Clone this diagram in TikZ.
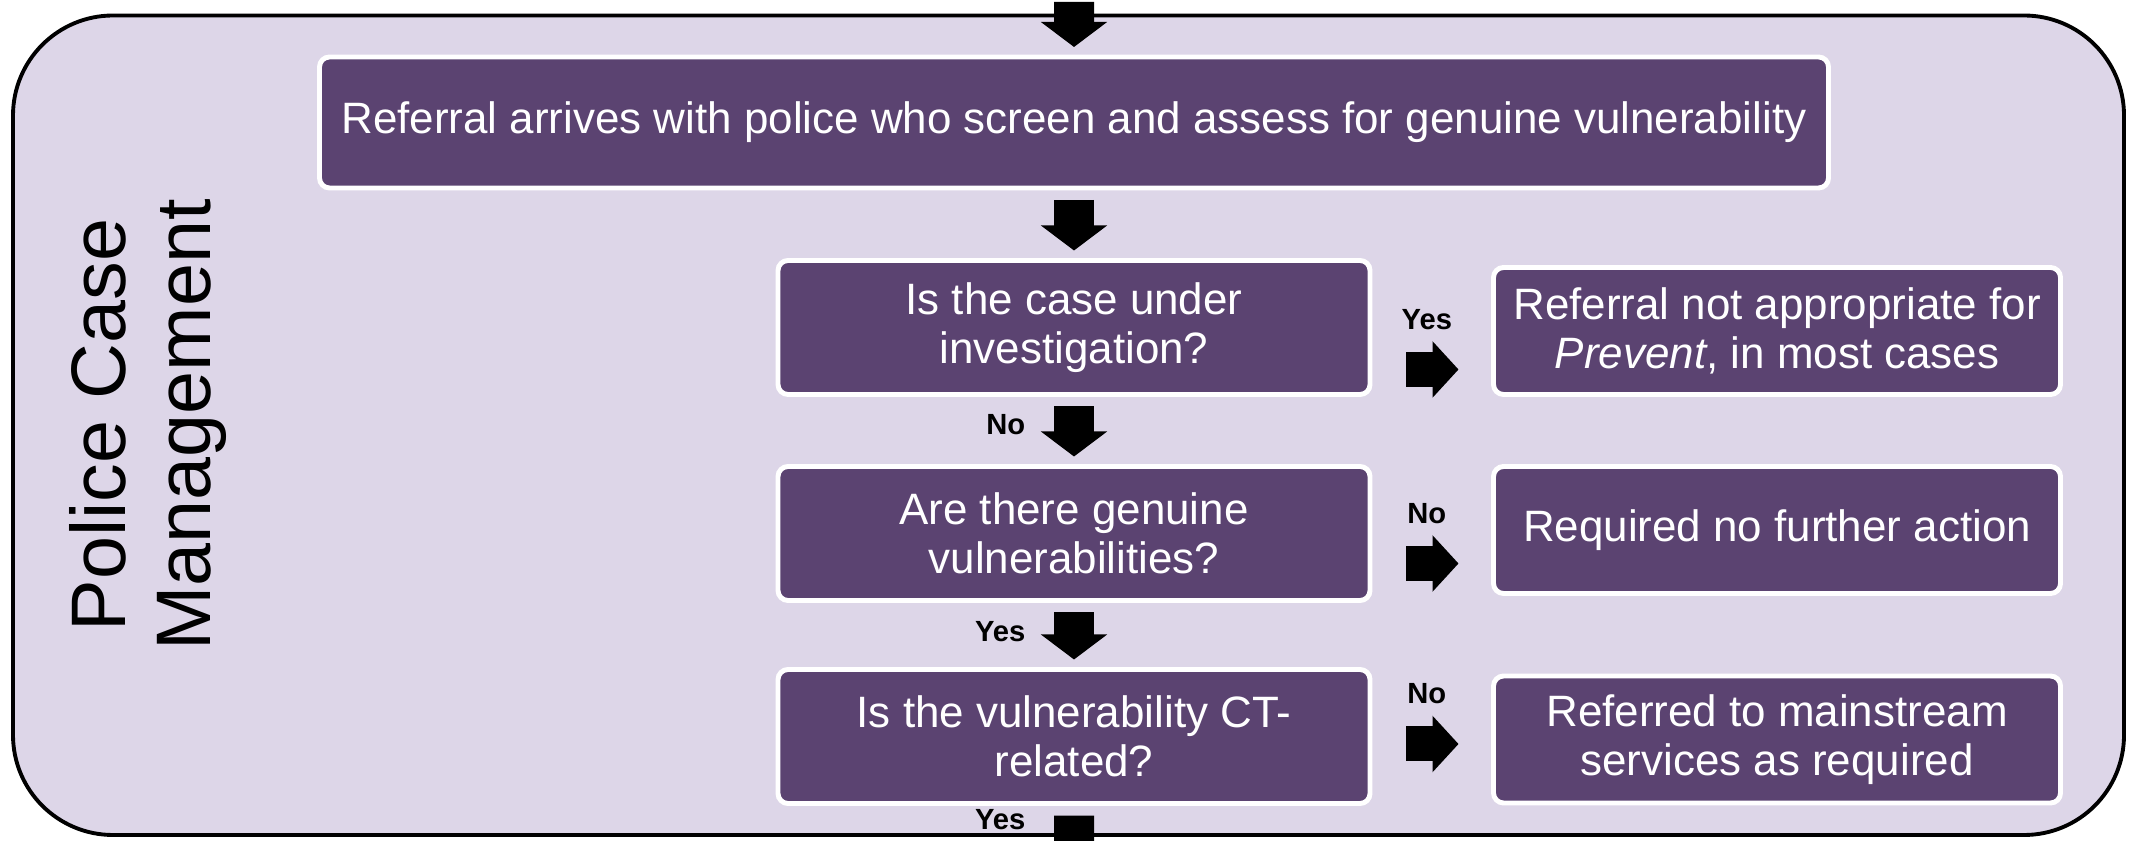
\documentclass[tikz,border=0pt]{standalone}
\usepackage{fontspec}
\setmainfont{Liberation Sans}
\usetikzlibrary{positioning, arrows.meta}
\definecolor{lavender}{RGB}{221,214,232}
\definecolor{plum}{RGB}{91,67,113}
\tikzset{
flowbox/.style={draw=white, line width=1.4pt, fill=plum, text=white, rounded corners=1mm,
    align=center, outer sep=0pt, font=\fontsize{12.5}{13.8}\selectfont},
ask/.style={flowbox, minimum width=5.92cm, minimum height=1.34cm},
outcome/.style={flowbox, minimum width=5.67cm, minimum height=1.27cm},
down/.style={line width=0.4cm, -{Triangle[width=0.65cm, length=0.25cm]}, shorten <=0.12cm, shorten >=0.1cm},
across/.style={line width=0.35cm, -{Triangle[width=0.55cm, length=0.26cm]}, shorten <=0.36cm, shorten >=0.35cm},
}
\newcommand{\ans}[1]{{\fontsize{8.3}{9}\selectfont\bfseries #1}}

\begin{document}
\begin{tikzpicture}
    \useasboundingbox (0,0) rectangle (21.31,-8.41);
    \draw[line width=1.1pt, fill=lavender, rounded corners=1cm] (0.13,-0.155) rectangle (21.24,-8.35);
    \node[xshift=1.48cm, yshift=-4.25cm, rotate=90, align=center, font=\fontsize{22}{24}\selectfont] (title) {Police Case\\Management};
    % main line
    \node[flowbox, minimum width=15.09cm, minimum height=1.31cm, xshift=10.74cm, yshift=-1.225cm] (top) {Referral arrives with police who screen and assess for genuine vulnerability};
    \node[ask, xshift=10.74cm, yshift=-3.275cm] (q1) {Is the case under\\investigation?};
    \node[ask, xshift=10.74cm, yshift=-5.335cm] (q2) {Are there genuine\\vulnerabilities?};
    \node[ask, xshift=10.74cm, yshift=-7.365cm] (q3) {Is the vulnerability CT-\\related?};
    % side outcomes
    \node[outcome, xshift=17.77cm, yshift=-3.31cm] (r1) {Referral not appropriate for\\\textit{Prevent}, in most cases};
    \node[outcome, xshift=17.77cm, yshift=-5.30cm] (r2) {Required no further action};
    \node[outcome, xshift=17.77cm, yshift=-7.395cm] (r3) {Referred to mainstream\\services as required};
    \coordinate (in) at (10.74,0.1);
    \coordinate (out) at (10.74,-9);
    \draw
        (in) edge[down] (top)
        (top) edge[down] (q1)
        (q1) edge[down] node[pos=0.42, left=0.17cm]{\ans{No}} (q2)
        (q2) edge[down] node[pos=0.45, left=0.17cm]{\ans{Yes}} (q3)
        (q3) edge[down] node[pos=0.17, left=0.17cm]{\ans{Yes}} (out)
        ([yshift=-0.42cm]q1.east) edge[across] node[pos=0.46, yshift=0.5cm]{\ans{Yes}} ([yshift=-0.42cm]q1.east -| r1.west)
        ([yshift=-0.3cm]q2.east) edge[across] node[pos=0.46, yshift=0.5cm]{\ans{No}} ([yshift=-0.3cm]q2.east -| r2.west)
        ([yshift=-0.075cm]q3.east) edge[across] node[pos=0.46, yshift=0.5cm]{\ans{No}} ([yshift=-0.075cm]q3.east -| r3.west)
    ;
\end{tikzpicture}
\end{document}
